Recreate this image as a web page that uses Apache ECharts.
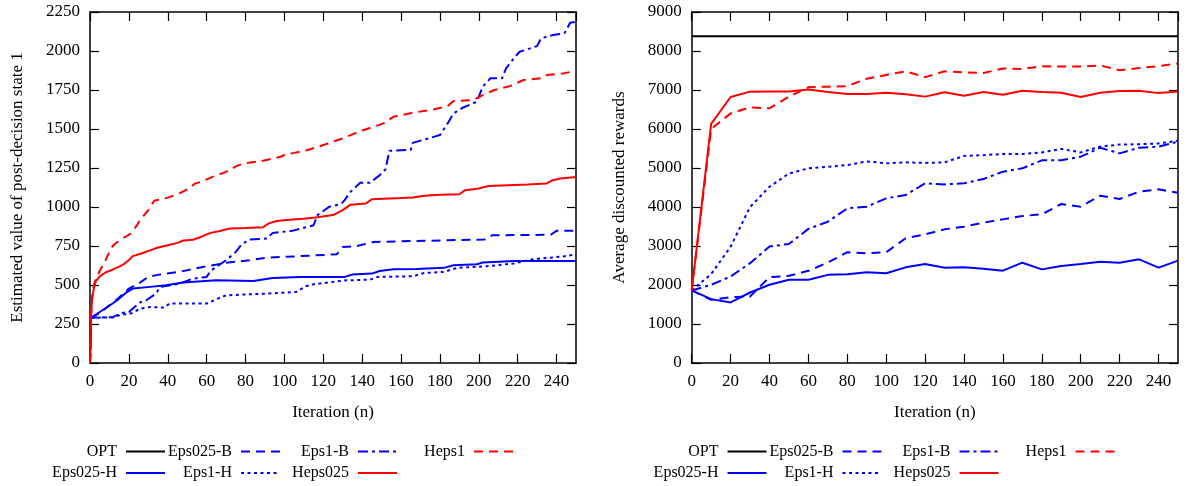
<!DOCTYPE html>
<html>
<head>
<meta charset="utf-8">
<script src="https://cdn.jsdelivr.net/npm/echarts@6/dist/echarts.min.js"></script>
<style>
  html, body { margin: 0; padding: 0; background: #ffffff; }
  #chart { width: 1198px; height: 486px; }
</style>
</head>
<body>
<div id="chart"></div>
<script>
// ---- Left panel: estimated value of post-decision state 1, [iteration, value] ----
const stateEps025H = [[0,0],[0.5,290],[5,327],[9,359],[14,402],[19,455],[22,477],[31,488],[39,498],[48,516],[65,530],[84,526],[94,545],[108,552],[131,552],[135,567],[145,573],[149,590],[156,601],[168,603],[182,610],[187,627],[199,633],[202,644],[218,654],[250,654]];
const stateEps025B = [[0,0],[0.5,290],[5,320],[10,370],[15,420],[20,477],[25,509],[30,552],[35,565],[39,573],[46,584],[52,600],[60,620],[70,642],[82,659],[92,676],[100,680],[127,697],[130,744],[137,749],[146,776],[160,780],[203,792],[207,819],[237,822],[240,847],[250,847]];
const stateEps1H = [[0,0],[0.5,290],[12,292],[16,310],[21,317],[26,349],[31,359],[38,355],[41,381],[60,381],[65,409],[70,434],[91,445],[106,455],[111,492],[115,505],[132,530],[144,534],[148,552],[166,556],[172,577],[182,584],[189,610],[204,620],[218,638],[228,665],[244,684],[250,697]];
const stateEps1B = [[0,0],[0.5,290],[12,295],[16,320],[20,327],[24,370],[26,390],[29,402],[34,445],[36,488],[42,500],[46,509],[53,541],[60,552],[62,590],[65,616],[70,659],[75,712],[78,760],[82,792],[91,798],[94,834],[104,847],[108,860],[115,883],[117,948],[123,1001],[129,1018],[131,1044],[134,1097],[139,1155],[144,1155],[149,1204],[152,1241],[154,1360],[165,1366],[166,1411],[180,1461],[184,1536],[187,1600],[192,1638],[199,1675],[202,1771],[206,1825],[212,1825],[214,1889],[218,1953],[221,1995],[225,2011],[230,2032],[232,2081],[238,2102],[244,2113],[247,2181],[250,2188]];
const stateHeps025 = [[0,0],[0.5,290],[1,400],[2,480],[3,525],[5,555],[8,580],[12,600],[17,630],[20,660],[22,685],[26,700],[31,722],[35,740],[40,755],[45,770],[48,785],[53,790],[57,808],[62,834],[68,850],[72,862],[80,865],[89,870],[92,895],[96,910],[104,920],[110,925],[116,933],[125,948],[130,980],[134,1015],[142,1023],[145,1050],[160,1057],[166,1061],[172,1072],[180,1078],[190,1082],[193,1108],[200,1119],[205,1134],[215,1140],[225,1145],[235,1151],[238,1172],[242,1183],[250,1193]];
const stateHeps1 = [[0,0],[0.5,290],[1,420],[2,500],[3,540],[5,590],[8,659],[11,740],[13,766],[17,800],[21,830],[24,880],[26,920],[30,980],[33,1040],[40,1060],[46,1087],[51,1119],[54,1150],[57,1161],[63,1193],[70,1225],[75,1260],[79,1279],[89,1296],[98,1322],[101,1339],[105,1347],[112,1365],[120,1397],[125,1420],[130,1440],[134,1461],[140,1490],[151,1536],[156,1578],[166,1604],[177,1626],[184,1647],[187,1679],[197,1685],[201,1711],[208,1750],[216,1775],[223,1814],[232,1825],[235,1846],[243,1855],[250,1873]];

// ---- Right panel: average discounted rewards, every 10 iterations ----
const rewardIterations = [0,10,20,30,40,50,60,70,80,90,100,110,120,130,140,150,160,170,180,190,200,210,220,230,240,250];
const rewardOPT      = [8380,8380,8380,8380,8380,8380,8380,8380,8380,8380,8380,8380,8380,8380,8380,8380,8380,8380,8380,8380,8380,8380,8380,8380,8380,8380];
const rewardEps025H  = [1860,1638,1552,1808,2005,2133,2133,2260,2277,2329,2303,2453,2538,2444,2453,2419,2367,2572,2401,2487,2538,2598,2572,2658,2444,2624];
const rewardEps025B  = [1860,1620,1690,1706,2200,2235,2363,2576,2840,2815,2840,3200,3300,3427,3495,3598,3683,3769,3812,4077,4008,4290,4205,4393,4453,4367];
const rewardEps1H    = [1860,2280,2980,4000,4520,4860,4990,5030,5075,5170,5120,5145,5130,5145,5310,5330,5360,5360,5400,5490,5400,5550,5600,5610,5630,5700];
const rewardEps1B    = [1860,2005,2218,2560,2985,3054,3440,3623,3965,4008,4222,4307,4607,4580,4607,4718,4906,4991,5197,5197,5290,5520,5376,5520,5547,5675];
const rewardHeps025  = [1860,6130,6820,6958,6960,6960,7010,6950,6900,6900,6930,6890,6830,6940,6850,6950,6880,6980,6950,6930,6820,6930,6975,6980,6920,6960];
const rewardHeps1    = [1860,6000,6400,6555,6530,6830,7070,7085,7100,7290,7385,7480,7330,7480,7450,7435,7550,7540,7610,7600,7600,7630,7505,7565,7610,7680];

// Legend rows (column-wise key, two rows)
const legendRow1 = ['OPT', 'Eps025-B', 'Eps1-B', 'Heps1'];
const legendRow2 = ['Eps025-H', 'Eps1-H', 'Heps025'];

const FONT = 'Liberation Serif';
const BLUE = '#0000ff', RED = '#ff0000', BLACK = '#000000';
const lineLook = {
  'OPT':      { color: BLACK, type: 'solid' },
  'Eps025-H': { color: BLUE,  type: 'solid' },
  'Eps025-B': { color: BLUE,  type: [9, 6] },
  'Eps1-H':   { color: BLUE,  type: [3, 3.5] },
  'Eps1-B':   { color: BLUE,  type: [10, 4, 3, 4] },
  'Heps025':  { color: RED,   type: 'solid' },
  'Heps1':    { color: RED,   type: [9, 6] }
};

function lineSeries(name, data, axisIndex) {
  const look = lineLook[name];
  return {
    type: 'line', name: name, data: data,
    xAxisIndex: axisIndex, yAxisIndex: axisIndex,
    symbol: 'none', showSymbol: false, silent: true, animation: false,
    lineStyle: { color: look.color, width: 2, type: look.type },
    itemStyle: { color: look.color }
  };
}
const pairs = (vals) => rewardIterations.map((n, i) => [n, vals[i]]);

const textBase = { color: BLACK, fontFamily: FONT, fontSize: 17 };
const frameLine = { show: true, onZero: false, lineStyle: { color: BLACK, width: 1.5 } };
const innerTick = { show: true, inside: true, length: 9, lineStyle: { color: BLACK, width: 1.2 } };

function xAxisPair(gridIndex) {
  return [
    { type: 'value', gridIndex, position: 'bottom', min: 0, max: 250, interval: 20,
      axisLine: frameLine, axisTick: innerTick, splitLine: { show: false },
      axisLabel: Object.assign({ margin: 10, showMaxLabel: false,
        formatter: v => (v % 20 === 0 ? String(v) : '') }, textBase),
      name: 'Iteration (n)', nameLocation: 'middle', nameGap: 41, nameTextStyle: textBase },
    { type: 'value', gridIndex, position: 'top', min: 0, max: 250, interval: 20,
      axisLine: frameLine, axisTick: innerTick, splitLine: { show: false },
      axisLabel: { show: false } }
  ];
}
function yAxisPair(gridIndex, max, interval, name) {
  return [
    { type: 'value', gridIndex, position: 'left', min: 0, max, interval,
      axisLine: frameLine, axisTick: innerTick, splitLine: { show: false },
      axisLabel: Object.assign({ margin: 10, formatter: v => String(v) }, textBase),
      name, nameLocation: 'middle', nameGap: 64, nameTextStyle: textBase },
    { type: 'value', gridIndex, position: 'right', min: 0, max, interval,
      axisLine: frameLine, axisTick: innerTick, splitLine: { show: false },
      axisLabel: { show: false } }
  ];
}

// One legend block per key entry: right edge of its sample line, row centre
const legendIconRight = [166, 281, 398, 514];
const panelShift = [0, 601.5];
const rowCentre = [453.5, 475];
const legends = [];
panelShift.forEach(shift => {
  [legendRow1, legendRow2].forEach((row, r) => {
    row.forEach((name, c) => {
      legends.push({
        data: [name], selectedMode: false, align: 'right', orient: 'horizontal',
        right: 1198 - (legendIconRight[c] + shift), top: rowCentre[r] - 10,
        padding: 0, itemWidth: 39, itemHeight: 20, itemGap: 0,
        itemStyle: { opacity: 0 },
        textStyle: Object.assign({}, textBase, { fontSize: 16, padding: [0, 4, 0, 0] })
      });
    });
  });
});

const chart = echarts.init(document.getElementById('chart'), null, { renderer: 'canvas' });
chart.setOption({
  backgroundColor: '#ffffff',
  animation: false,
  grid: [
    { left: 90, top: 12, width: 486, height: 351, containLabel: false, outerBoundsMode: 'none' },
    { left: 691.7, top: 12, width: 486.3, height: 351, containLabel: false, outerBoundsMode: 'none' }
  ],
  xAxis: [...xAxisPair(0), ...xAxisPair(1)],
  yAxis: [...yAxisPair(0, 2250, 250, 'Estimated value of post-decision state 1'),
          ...yAxisPair(1, 9000, 1000, 'Average discounted rewards')],
  legend: legends,
  series: [
    lineSeries('OPT', [], 0),
    lineSeries('Eps025-H', stateEps025H, 0),
    lineSeries('Eps025-B', stateEps025B, 0),
    lineSeries('Eps1-H', stateEps1H, 0),
    lineSeries('Eps1-B', stateEps1B, 0),
    lineSeries('Heps025', stateHeps025, 0),
    lineSeries('Heps1', stateHeps1, 0),
    lineSeries('OPT', pairs(rewardOPT), 2),
    lineSeries('Eps025-H', pairs(rewardEps025H), 2),
    lineSeries('Eps025-B', pairs(rewardEps025B), 2),
    lineSeries('Eps1-H', pairs(rewardEps1H), 2),
    lineSeries('Eps1-B', pairs(rewardEps1B), 2),
    lineSeries('Heps025', pairs(rewardHeps025), 2),
    lineSeries('Heps1', pairs(rewardHeps1), 2)
  ]
});
</script>
</body>
</html>
